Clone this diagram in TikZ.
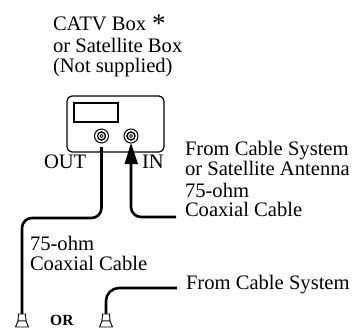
\documentclass[tikz,border=0pt]{standalone}
\usepackage{fontspec}
\setmainfont{Liberation Serif}
\tikzset{x=1pt,y=-1pt,
 lbl/.style={anchor=base west,inner sep=0pt,outer sep=0pt,font=\fontsize{20.6}{22}\selectfont},
 cable/.style={line width=2.6pt,black},
 devbox/.style={draw,line width=1.2pt},
 plugshape/.style={draw,line width=0.9pt,fill=white}}
\newcommand{\plugat}[2]{%
 \draw[plugshape] (#1-3.5,#2) -- (#1+3.5,#2) -- (#1+4,#2+7) -- (#1-4,#2+7) -- cycle;
 \draw[plugshape] (#1-4,#2+7) -- (#1+4,#2+7) -- (#1+6.5,#2+13) -- (#1-6.5,#2+13) -- cycle;}
\begin{document}
\begin{tikzpicture}
\useasboundingbox (0,0) rectangle (355,327);
\node[lbl] (t1) at (53,30) {CATV Box};
\node[lbl,font=\fontsize{27}{27}\selectfont] (star) at (152,32) {*};
\node[lbl] (t2) at (53,52) {or Satellite Box};
\node[lbl] (t3) at (53,72) {(Not supplied)};
\node[lbl] (out) at (44,168) {OUT};
\node[lbl] (in) at (142,168) {IN};
\node[lbl] (f1) at (185,155) {From Cable System};
\node[lbl] (f2) at (185,175) {or Satellite Antenna};
\node[lbl] (f3) at (185,197) {75-ohm};
\node[lbl] (f4) at (185,216) {Coaxial Cable};
\node[lbl] (c1) at (30,250) {75-ohm};
\node[lbl] (c2) at (30,270) {Coaxial Cable};
\node[lbl] (f5) at (186,289) {From Cable System};
\node[anchor=base west,inner sep=0pt,font=\fontsize{15.5}{16}\selectfont\bfseries] (or) at (50,325) {OR};
% device
\draw[devbox,rounded corners=5pt] (67,96) rectangle (164,152);
\draw[devbox] (74,103) rectangle (118,122);
\foreach \x in {101.5,131}{
 \draw[line width=1pt] (\x,136) circle (7);
 \draw[line width=1.4pt] (\x,136) circle (4);
 \draw[line width=.8pt] (\x,136) circle (1.6);
}
% cables
\coordinate (pa) at (22,315);
\coordinate (pb) at (106,315);
\coordinate (outp) at (101.5,147);
\coordinate (inp) at (131,143);
\coordinate (endr) at (176,217);
\coordinate (endb) at (177,288);
\draw[cable,rounded corners=10pt] (outp) -- (101.5,218) -- (22,218) -- (pa);
\draw[cable,rounded corners=10pt] (131,160) -- (131,217) -- (endr);
\fill (inp) -- (138,164) -- (124.5,164) -- cycle;
\draw[cable,rounded corners=13pt] (endb) -- (106,288) -- (pb);
\plugat{22}{314}
\plugat{106}{314}
\end{tikzpicture}
\end{document}
